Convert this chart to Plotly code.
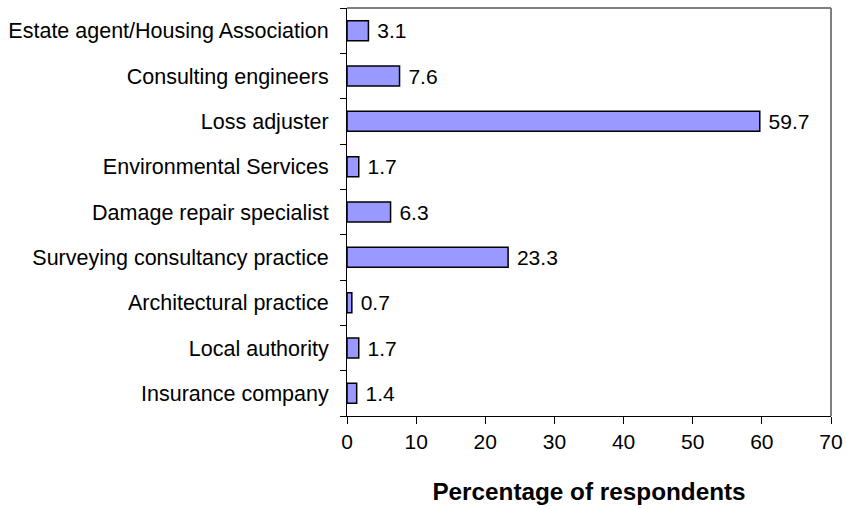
import plotly.graph_objects as go

categories = [
    "Insurance company",
    "Local authority",
    "Architectural practice",
    "Surveying consultancy practice",
    "Damage repair specialist",
    "Environmental Services",
    "Loss adjuster",
    "Consulting engineers",
    "Estate agent/Housing Association",
]
values = [1.4, 1.7, 0.7, 23.3, 6.3, 1.7, 59.7, 7.6, 3.1]
x_ticks = [0, 10, 20, 30, 40, 50, 60, 70]

FONT = "Liberation Sans, Arial, sans-serif"

fig = go.Figure()
fig.add_trace(go.Bar(
    y=categories,
    x=values,
    orientation="h",
    marker=dict(color="#9999FF", line=dict(color="black", width=1.5)),
    text=[f" {v:.1f}" for v in values],
    textposition="outside",
    constraintext="none",
    textfont=dict(family=FONT, size=21, color="black"),
    cliponaxis=False,
    hoverinfo="skip",
))

fig.update_layout(
    width=847, height=508,
    margin=dict(l=347, r=16, t=8, b=92),
    paper_bgcolor="white",
    plot_bgcolor="white",
    bargap=0.56,
    showlegend=False,
    font=dict(family=FONT, size=21, color="black"),
    xaxis=dict(
        range=[0, 70],
        tickvals=x_ticks,
        ticks="outside", ticklen=7, tickcolor="black", tickwidth=1,
        showline=True, linecolor="black", linewidth=1,
        mirror=False,
        showgrid=False, zeroline=False,
        tickfont=dict(family=FONT, size=21),
        title=dict(text="<b>Percentage of respondents</b>",
                   font=dict(family=FONT, size=24.3), standoff=30),
        automargin=False,
        ticklabeloverflow="allow",
    ),
    yaxis=dict(
        ticks="outside", ticklen=6, tickcolor="black",
        showline=True, linecolor="black", linewidth=1,
        showgrid=False, zeroline=False,
        tickson="boundaries",
        tickfont=dict(family=FONT, size=21.5),
        ticklabelstandoff=13,
        automargin=False,
    ),
    shapes=[
        dict(type="line", xref="paper", yref="paper", x0=0, x1=1, y0=1, y1=1,
             line=dict(color="#808080", width=2)),
        dict(type="line", xref="paper", yref="paper", x0=1, x1=1, y0=0, y1=1,
             line=dict(color="#808080", width=2)),
    ],
)

fig.write_html(
    "out.html",
    config={"displayModeBar": False},
    post_script="document.body.style.margin='0';document.documentElement.style.overflow='hidden';",
)
